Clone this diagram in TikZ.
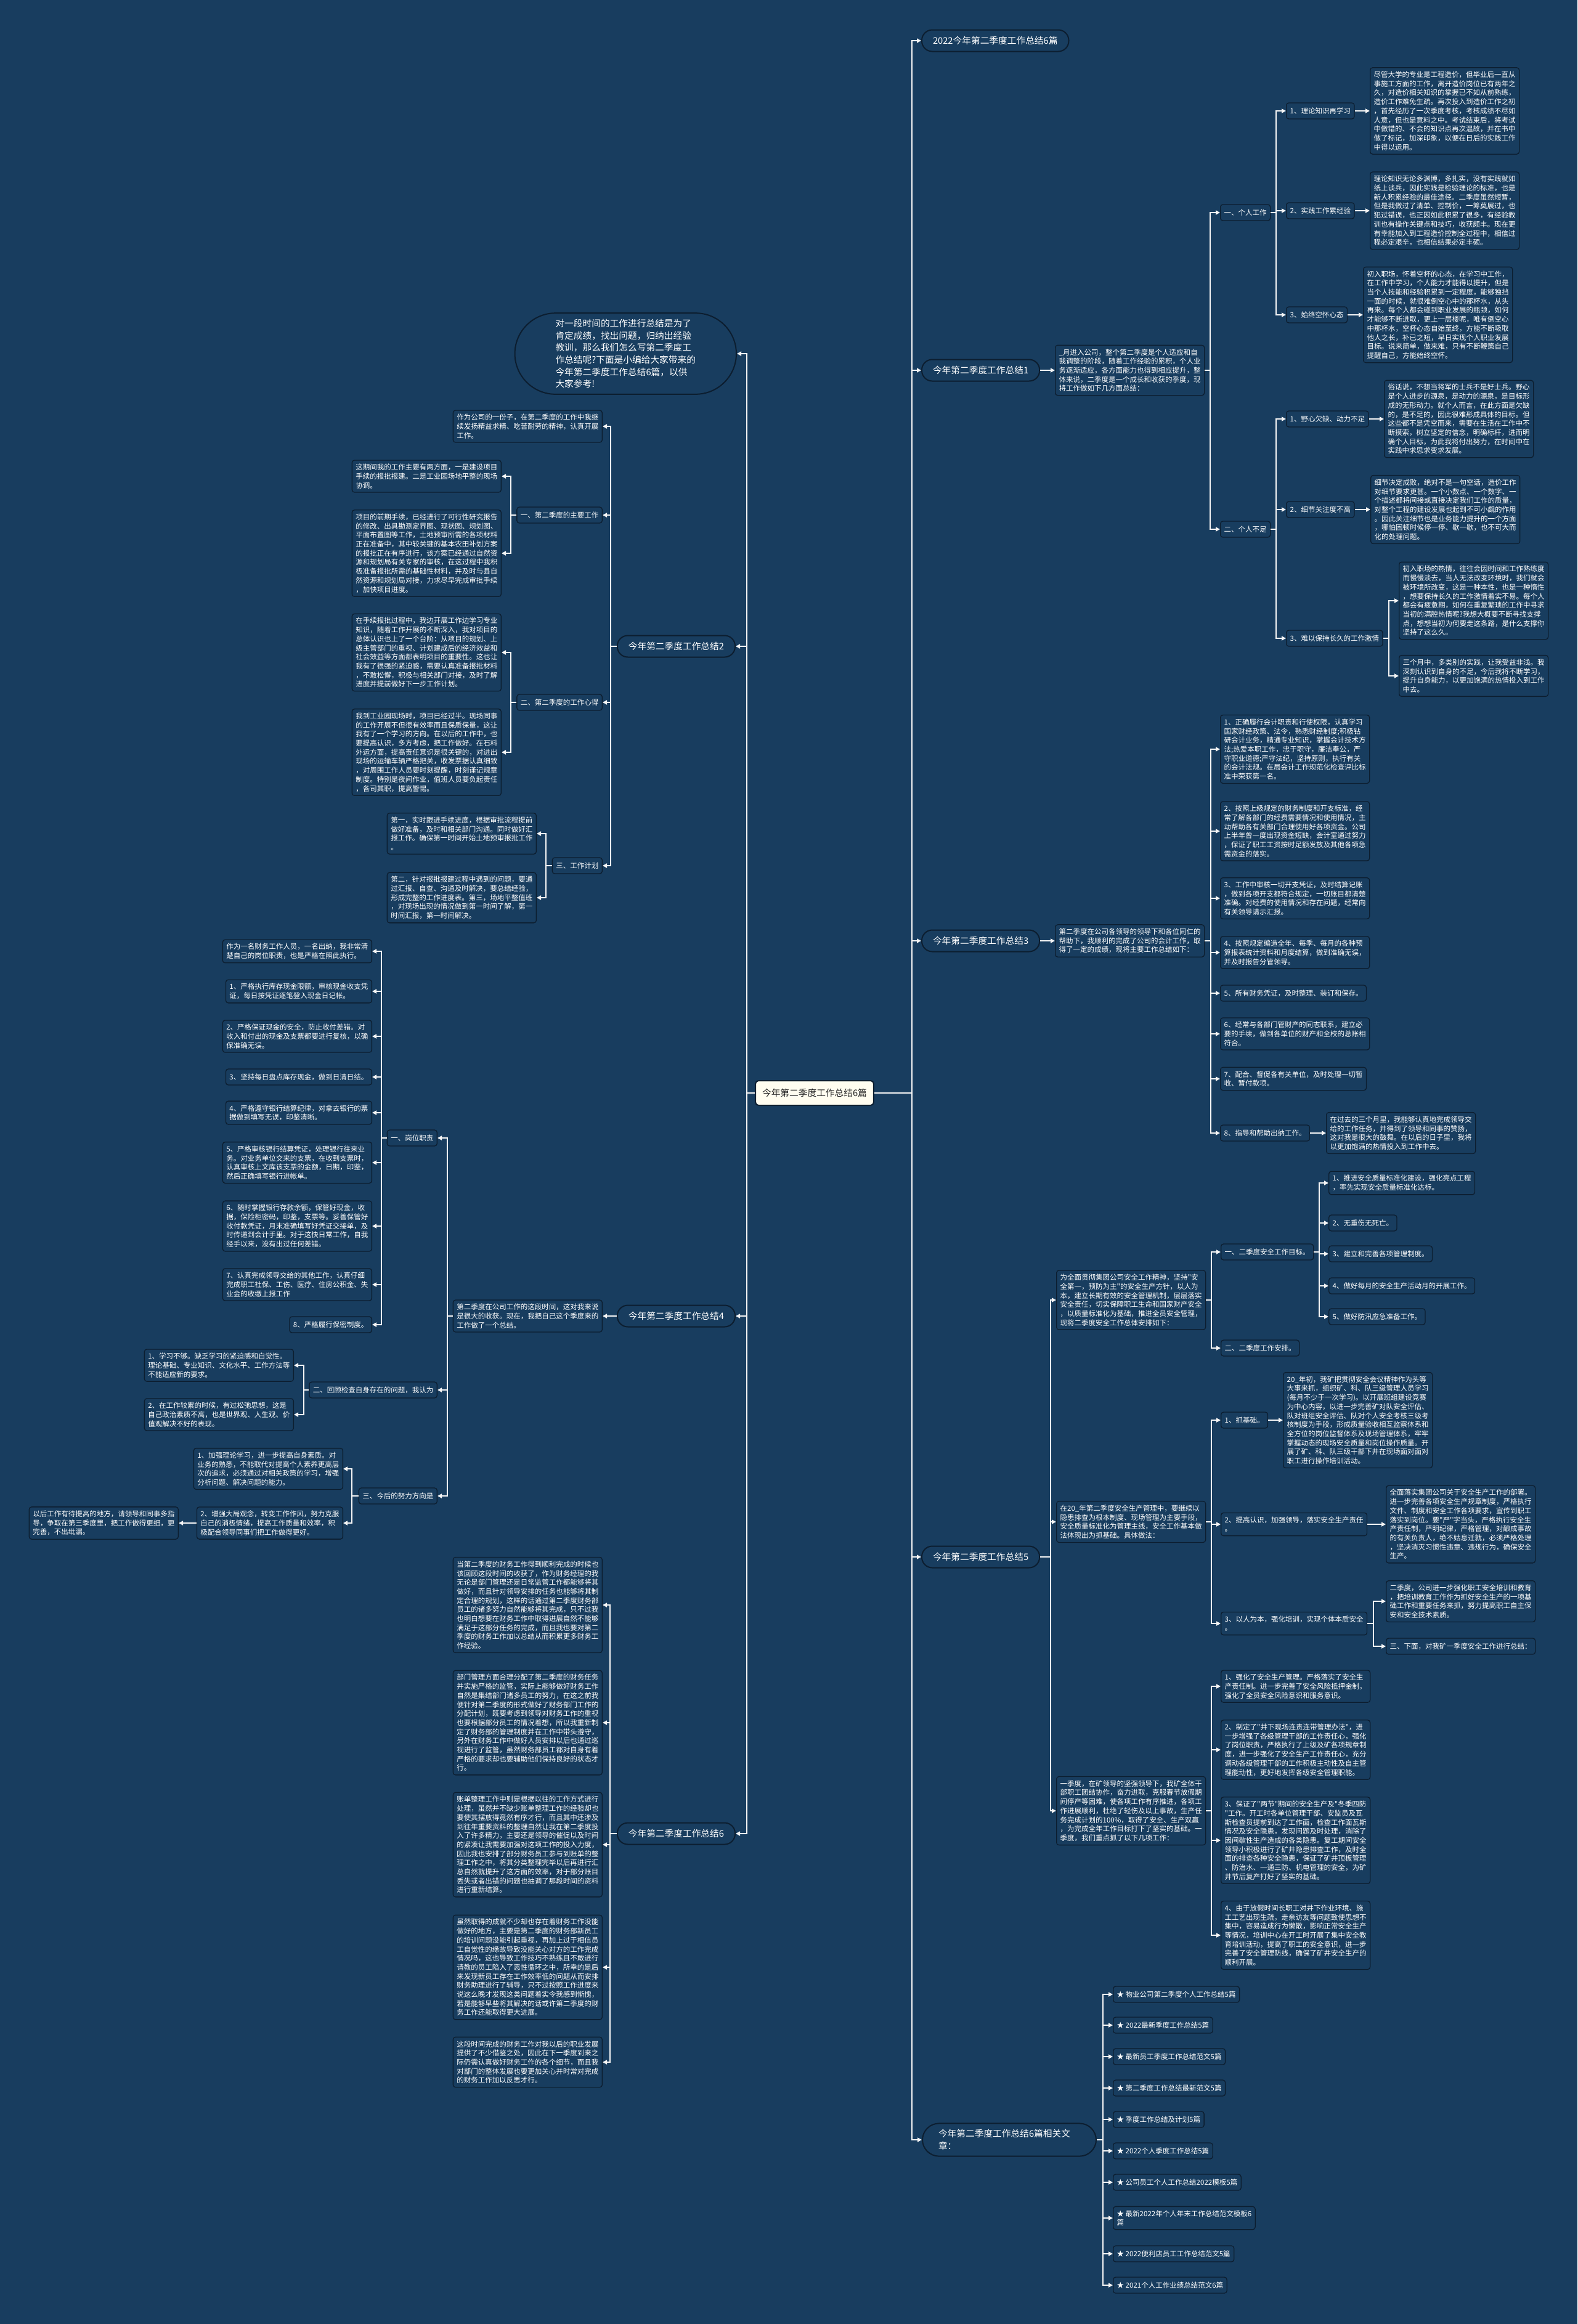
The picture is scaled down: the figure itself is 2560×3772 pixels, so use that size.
\documentclass[tikz,border=0pt]{standalone}
\usepackage{fontspec}
\newfontfamily\cjk{Noto Sans CJK SC}
\usetikzlibrary{arrows.meta}
\definecolor{bg}{RGB}{24,61,95}
\definecolor{bdr}{RGB}{12,30,48}
\definecolor{lin}{RGB}{245,245,245}
\definecolor{ctr}{RGB}{255,253,240}
\newcommand\myfs{\fontsize{11.5}{14.7}\selectfont}
\newcommand\myfm{\fontsize{14.7}{19.6}\selectfont}
\newcommand\myrc[3]{\draw[conn] (#1.east) -- ++(#3,0) |- (#2.west);}
\newcommand\mylc[3]{\draw[conn] (#1.west) -- ++(-#3,0) |- (#2.east);}
\begin{document}
\begin{tikzpicture}[x=1pt,y=-1pt,
  leaf/.style={draw=bdr,line width=1.3pt,rounded corners=4pt,fill=bg,text=white,font=\cjk\myfs,align=left,inner xsep=6pt,inner ysep=6pt,minimum height=26pt},
  pill/.style={draw=bdr,line width=2pt,rounded corners=17pt,fill=bg,text=white,font=\cjk\myfm,inner xsep=18pt,minimum height=35pt},
  conn/.style={draw=lin,line width=2.2pt,-{Triangle[length=7pt,width=7pt]}},
  ctrnode/.style={draw=bdr,line width=2pt,rounded corners=5pt,fill=ctr,text=black!85,font=\cjk\myfm,inner xsep=11pt,minimum height=40pt}]
\fill[bg] (0,0) rectangle (2560,3772);
\useasboundingbox (0,0) rectangle (2560,3772);

% centre
\node[ctrnode] (c) at (1322,1774) {今年第二季度工作总结6篇};
\coordinate (rt) at (1480,1774);
\coordinate (lt) at (1212,1774);

% ---------------- right side main
\node[pill,anchor=west] (p0) at (1495,66) {2022今年第二季度工作总结6篇};
\node[pill,anchor=west] (p1) at (1495,601) {今年第二季度工作总结1};
\node[pill,anchor=west] (p3) at (1495,1527) {今年第二季度工作总结3};
\node[pill,anchor=west] (p5) at (1495,2527) {今年第二季度工作总结5};
\node[pill,anchor=west,align=left,text width=230pt,inner xsep=26pt,inner ysep=10pt,rounded corners=27pt] (pr) at (1496,3473) {今年第二季度工作总结6篇相关文\\章：};

% ---------------- 总结1
\node[leaf,anchor=west] (d1) at (1712,601) {\_月进入公司，整个第二季度是个人适应和自\\我调整的阶段，随着工作经验的累积，个人业\\务逐渐适应，各方面能力也得到相应提升，整\\体来说，二季度是一个成长和收获的季度，现\\将工作做如下几方面总结：};
\node[leaf,anchor=west] (g1) at (1980,345) {一、个人工作};
\node[leaf,anchor=west] (g2) at (1980,859) {二、个人不足};
\node[leaf,anchor=west] (g1a) at (2087,180) {1、理论知识再学习};
\node[leaf,anchor=west] (l1a) at (2223,180) {尽管大学的专业是工程造价，但毕业后一直从\\事施工方面的工作，离开造价岗位已有两年之\\久，对造价相关知识的掌握已不如从前熟练，\\造价工作难免生疏。再次投入到造价工作之初\\，首先经历了一次季度考核，考核成绩不尽如\\人意，但也是意料之中。考试结束后，将考试\\中做错的、不会的知识点再次温故，并在书中\\做了标记，加深印象，以便在日后的实践工作\\中得以运用。};
\node[leaf,anchor=west] (g1b) at (2087,342) {2、实践工作累经验};
\node[leaf,anchor=west] (l1b) at (2223,342) {理论知识无论多渊博，多扎实，没有实践就如\\纸上谈兵，因此实践是检验理论的标准，也是\\新人积累经验的最佳途径。二季度虽然短暂，\\但是我做过了清单、控制价，一筹莫展过，也\\犯过错误，也正因如此积累了很多，有经验教\\训也有操作关键点和技巧，收获颇丰。现在更\\有幸能加入到工程造价控制全过程中，相信过\\程必定艰辛，也相信结果必定丰硕。};
\node[leaf,anchor=west] (g1c) at (2087,511) {3、始终空怀心态};
\node[leaf,anchor=west] (l1c) at (2212,511) {初入职场，怀着空杯的心态，在学习中工作，\\在工作中学习，个人能力才能得以提升，但是\\当个人技能和经验积累到一定程度，能够独挡\\一面的时候，就很难倒空心中的那杯水，从头\\再来。每个人都会碰到职业发展的瓶颈，如何\\才能够不断进取，更上一层楼呢，唯有倒空心\\中那杯水，空杯心态自始至终，方能不断吸取\\他人之长，补已之短，早日实现个人职业发展\\目标。说来简单，做来难，只有不断鞭策自己\\提醒自己，方能始终空怀。};
\node[leaf,anchor=west] (g2a) at (2087,680) {1、野心欠缺、动力不足};
\node[leaf,anchor=west] (l2a) at (2246,680) {俗话说，不想当将军的士兵不是好士兵。野心\\是个人进步的源泉，是动力的源泉，是目标形\\成的无形动力。就个人而言，在此方面是欠缺\\的，是不足的，因此很难形成具体的目标。但\\这些都不是凭空而来，需要在生活在工作中不\\断摸索，树立坚定的信念，明确标杆，进而明\\确个人目标，为此我将付出努力，在时间中在\\实践中求思求变求发展。};
\node[leaf,anchor=west] (g2b) at (2087,827) {2、细节关注度不高};
\node[leaf,anchor=west] (l2b) at (2224,827) {细节决定成败，绝对不是一句空话，造价工作\\对细节要求更甚。一个小数点、一个数字、一\\个描述都将间接或直接决定我们工作的质量，\\对整个工程的建设发展也起到不可小觑的作用\\。因此关注细节也是业务能力提升的一个方面\\，哪怕困顿时候停一停、歇一歇，也不可大而\\化的处理问题。};
\node[leaf,anchor=west] (g2c) at (2087,1036) {3、难以保持长久的工作激情};
\node[leaf,anchor=west] (l2c1) at (2270,975) {初入职场的热情，往往会因时间和工作熟练度\\而慢慢淡去，当人无法改变环境时，我们就会\\被环境所改变，这是一种本性，也是一种惰性\\，想要保持长久的工作激情着实不易。每个人\\都会有疲惫期，如何在重复繁琐的工作中寻求\\当初的满腔热情呢?我想大概要不断寻找支撑\\点，想想当初为何要走这条路，是什么支撑你\\坚持了这么久。};
\node[leaf,anchor=west] (l2c2) at (2270,1097) {三个月中，多类别的实践，让我受益非浅。我\\深刻认识到自身的不足，今后我将不断学习，\\提升自身能力，以更加饱满的热情投入到工作\\中去。};

% ---------------- 总结3
\node[leaf,anchor=west] (d3) at (1712,1527) {第二季度在公司各领导的领导下和各位同仁的\\帮助下，我顺利的完成了公司的会计工作，取\\得了一定的成绩，现将主要工作总结如下：};
\node[leaf,anchor=west] (m1) at (1980,1216) {1、正确履行会计职责和行使权限，认真学习\\国家财经政策、法令，熟悉财经制度;积极钻\\研会计业务，精通专业知识，掌握会计技术方\\法;热爱本职工作，忠于职守，廉洁奉公，严\\守职业道德;严守法纪，坚持原则，执行有关\\的会计法规。在局会计工作规范化检查评比标\\准中荣获第一名。};
\node[leaf,anchor=west] (m2) at (1980,1349) {2、按照上级规定的财务制度和开支标准，经\\常了解各部门的经费需要情况和使用情况，主\\动帮助各有关部门合理使用好各项资金。公司\\上半年曾一度出现资金短缺，会计室通过努力\\，保证了职工工资按时足额发放及其他各项急\\需资金的落实。};
\node[leaf,anchor=west] (m3) at (1980,1458) {3、工作中审核一切开支凭证，及时结算记账\\，做到各项开支都符合规定，一切账目都清楚\\准确。对经费的使用情况和存在问题，经常向\\有关领导请示汇报。};
\node[leaf,anchor=west] (m4) at (1980,1546) {4、按照规定编造全年、每季、每月的各种预\\算报表统计资料和月度结算，做到准确无误，\\并及时报告分管领导。};
\node[leaf,anchor=west] (m5) at (1980,1612) {5、所有财务凭证，及时整理、装订和保存。};
\node[leaf,anchor=west] (m6) at (1980,1678) {6、经常与各部门管财产的同志联系，建立必\\要的手续，做到各单位的财产和全校的总账相\\符合。};
\node[leaf,anchor=west] (m7) at (1980,1751) {7、配合、督促各有关单位，及时处理一切暂\\收、暂付款项。};
\node[leaf,anchor=west] (m8) at (1980,1839) {8、指导和帮助出纳工作。};
\node[leaf,anchor=west] (m8c) at (2152,1839) {在过去的三个月里，我能够认真地完成领导交\\给的工作任务，并得到了领导和同事的赞扬，\\这对我是很大的鼓舞。在以后的日子里，我将\\以更加饱满的热情投入到工作中去。};

% ---------------- 总结5
\node[leaf,anchor=west] (e1) at (1714,2110) {为全面贯彻集团公司安全工作精神，坚持"安\\全第一，预防为主"的安全生产方针，以人为\\本，建立长期有效的安全管理机制，层层落实\\安全责任，切实保障职工生命和国家财产安全\\，以质量标准化为基础，推进全员安全管理，\\现将二季度安全工作总体安排如下：};
\node[leaf,anchor=west] (s1) at (1981,2032) {一、二季度安全工作目标。};
\node[leaf,anchor=west] (s2) at (1981,2188) {二、二季度工作安排。};
\node[leaf,anchor=west] (s1a) at (2156,1920) {1、推进安全质量标准化建设，强化亮点工程\\，率先实现安全质量标准化达标。};
\node[leaf,anchor=west] (s1b) at (2156,1985) {2、无重伤无死亡。};
\node[leaf,anchor=west] (s1c) at (2156,2035) {3、建立和完善各项管理制度。};
\node[leaf,anchor=west] (s1d) at (2156,2087) {4、做好每月的安全生产活动月的开展工作。};
\node[leaf,anchor=west] (s1e) at (2156,2137) {5、做好防汛应急准备工作。};

\node[leaf,anchor=west] (e2) at (1714,2470) {在20\_年第二季度安全生产管理中，要继续以\\隐患排查为根本制度、现场管理为主要手段，\\安全质量标准化为管理主线，安全工作基本做\\法体现出为抓基础。具体做法：};
\node[leaf,anchor=west] (t1) at (1981,2305) {1、抓基础。};
\node[leaf,anchor=west] (t1l) at (2082,2305) {20\_年初，我矿把贯彻安全会议精神作为头等\\大事来抓，组织矿、科、队三级管理人员学习\\(每月不少于一次学习)。以开展班组建设竞赛\\为中心内容，以进一步完善矿对队安全评估、\\队对班组安全评估、队对个人安全考核三级考\\核制度为手段，形成质量验收相互监察体系和\\全方位的岗位监督体系及现场管理体系，牢牢\\掌握动态的现场安全质量和岗位操作质量。开\\展了矿、科、队三级干部下井在现场面对面对\\职工进行操作培训活动。};
\node[leaf,anchor=west] (t2) at (1981,2474) {2、提高认识，加强领导，落实安全生产责任\\。};
\node[leaf,anchor=west] (t2l) at (2249,2474) {全面落实集团公司关于安全生产工作的部署。\\进一步完善各项安全生产规章制度，严格执行\\文件、制度和安全工作各项要求，宣传到职工\\落实到岗位。要"严"字当头，严格执行安全生\\产责任制，严明纪律，严格管理，对酿成事故\\的有关负责人，绝不姑息迁就，必须严格处理\\，坚决消灭习惯性违章、违规行为，确保安全\\生产。};
\node[leaf,anchor=west] (t3) at (1981,2635) {3、以人为本，强化培训，实现个体本质安全\\。};
\node[leaf,anchor=west] (t3a) at (2249,2599) {二季度，公司进一步强化职工安全培训和教育\\，把培训教育工作作为抓好安全生产的一项基\\础工作和重要任务来抓，努力提高职工自主保\\安和安全技术素质。};
\node[leaf,anchor=west] (t3b) at (2249,2672) {三、下面，对我矿一季度安全工作进行总结：};

\node[leaf,anchor=west] (e3) at (1714,2939) {一季度，在矿领导的坚强领导下，我矿全体干\\部职工团结协作，奋力进取，克服春节放假期\\间停产等困难，使各项工作有序推进，各项工\\作进展顺利，杜绝了轻伤及以上事故，生产任\\务完成计划的100\%，取得了安全、生产双赢\\，为完成全年工作目标打下了坚实的基础。一\\季度，我们重点抓了以下几项工作：};
\node[leaf,anchor=west] (u1) at (1981,2737) {1、强化了安全生产管理。严格落实了安全生\\产责任制。进一步完善了安全风险抵押金制，\\强化了全员安全风险意识和服务意识。};
\node[leaf,anchor=west] (u2) at (1981,2840) {2、制定了"井下现场连责连带管理办法"，进\\一步增强了各级管理干部的工作责任心，强化\\了岗位职责，严格执行了上级及矿各项规章制\\度，进一步强化了安全生产工作责任心，充分\\调动各级管理干部的工作积极主动性及自主管\\理能动性，更好地发挥各级安全管理职能。};
\node[leaf,anchor=west] (u3) at (1981,2987) {3、保证了"两节"期间的安全生产及"冬季四防\\"工作。开工时各单位管理干部、安监员及瓦\\斯检查员提前到达了工作面，检查工作面瓦斯\\情况及安全隐患，发现问题及时处理，消除了\\因间歇性生产造成的各类隐患。复工期间安全\\领导小积极进行了矿井隐患排查工作，及时全\\面的排查各种安全隐患，保证了矿井顶板管理\\、防治水、一通三防、机电管理的安全，为矿\\井节后复产打好了坚实的基础。};
\node[leaf,anchor=west] (u4) at (1981,3141) {4、由于放假时间长职工对井下作业环境、施\\工工艺出现生疏，走亲访友等问题致使思想不\\集中，容易造成行为懒散，影响正常安全生产\\等情况，培训中心在开工时开展了集中安全教\\育培训活动，提高了职工的安全意识，进一步\\完善了安全管理防线，确保了矿井安全生产的\\顺利开展。};

% ---------------- related
\node[leaf,anchor=west] (r1) at (1806,3237) {★ 物业公司第二季度个人工作总结5篇};
\node[leaf,anchor=west] (r2) at (1806,3287) {★ 2022最新季度工作总结5篇};
\node[leaf,anchor=west] (r3) at (1806,3338) {★ 最新员工季度工作总结范文5篇};
\node[leaf,anchor=west] (r4) at (1806,3389) {★ 第二季度工作总结最新范文5篇};
\node[leaf,anchor=west] (r5) at (1806,3440) {★ 季度工作总结及计划5篇};
\node[leaf,anchor=west] (r6) at (1806,3491) {★ 2022个人季度工作总结5篇};
\node[leaf,anchor=west] (r7) at (1806,3542) {★ 公司员工个人工作总结2022模板5篇};
\node[leaf,anchor=west] (r8) at (1806,3600) {★ 最新2022年个人年末工作总结范文模板6\\篇};
\node[leaf,anchor=west] (r9) at (1806,3658) {★ 2022便利店员工工作总结范文5篇};
\node[leaf,anchor=west] (r10) at (1806,3709) {★ 2021个人工作业绩总结范文6篇};

% ---------------- left side main
\node[pill,anchor=east,align=left,rounded corners=66pt,inner xsep=66pt,inner ysep=10pt] (intro) at (1196,574) {对一段时间的工作进行总结是为了\\肯定成绩，找出问题，归纳出经验\\教训，那么我们怎么写第二季度工\\作总结呢?下面是小编给大家带来的\\今年第二季度工作总结6篇，以供\\大家参考!};
\node[pill,anchor=east] (p2) at (1194,1049) {今年第二季度工作总结2};
\node[pill,anchor=east] (p4) at (1194,2136) {今年第二季度工作总结4};
\node[pill,anchor=east] (p6) at (1194,2976) {今年第二季度工作总结6};

% ---------------- 总结2
\node[leaf,anchor=east] (a0) at (978,692) {作为公司的一份子，在第二季度的工作中我继\\续发扬精益求精、吃苦耐劳的精神，认真开展\\工作。};
\node[leaf,anchor=east] (h1) at (978,836) {一、第二季度的主要工作};
\node[leaf,anchor=east] (h2) at (978,1140) {二、第二季度的工作心得};
\node[leaf,anchor=east] (h3) at (978,1405) {三、工作计划};
\node[leaf,anchor=east] (h1a) at (814,773) {这期间我的工作主要有两方面，一是建设项目\\手续的报批报建。二是工业园场地平整的现场\\协调。};
\node[leaf,anchor=east] (h1b) at (814,898) {项目的前期手续，已经进行了可行性研究报告\\的修改、出具勘测定界图、现状图、规划图、\\平面布置图等工作，土地预审所需的各项材料\\正在准备中，其中较关键的基本农田补划方案\\的报批正在有序进行，该方案已经通过自然资\\源和规划局有关专家的审核，在这过程中我积\\极准备报批所需的基础性材料，并及时与县自\\然资源和规划局对接，力求尽早完成审批手续\\，加快项目进度。};
\node[leaf,anchor=east] (h2a) at (814,1059) {在手续报批过程中，我边开展工作边学习专业\\知识，随着工作开展的不断深入，我对项目的\\总体认识也上了一个台阶：从项目的规划、上\\级主管部门的重视、计划建成后的经济效益和\\社会效益等方面都表明项目的重要性。这也让\\我有了很强的紧迫感，需要认真准备报批材料\\，不敢松懈，积极与相关部门对接，及时了解\\进度并提前做好下一步工作计划。};
\node[leaf,anchor=east] (h2b) at (814,1221) {我到工业园现场时，项目已经过半。现场同事\\的工作开展不但很有效率而且保质保量，这让\\我有了一个学习的方向。在以后的工作中，也\\要提高认识，多方考虑，把工作做好。在石料\\外运方面，提高责任意识是很关键的，对进出\\现场的运输车辆严格把关，收发票据认真细致\\，对周围工作人员要时刻提醒，时刻谨记规章\\制度。特别是夜间作业，值班人员要负起责任\\，各司其职，提高警惕。};
\node[leaf,anchor=east] (h3a) at (871,1353) {第一，实时跟进手续进度，根据审批流程提前\\做好准备，及时和相关部门沟通。同时做好汇\\报工作。确保第一时间开始土地预审报批工作\\。};
\node[leaf,anchor=east] (h3b) at (871,1457) {第二，针对报批报建过程中遇到的问题，要通\\过汇报、自查、沟通及时解决，要总结经验，\\形成完整的工作进度表。第三，场地平整值班\\，对现场出现的情况做到第一时间了解，第一\\时间汇报，第一时间解决。};

% ---------------- 总结4
\node[leaf,anchor=east] (d4) at (978,2136) {第二季度在公司工作的这段时间，这对我来说\\是很大的收获。现在，我把自己这个季度来的\\工作做了一个总结。};
\node[leaf,anchor=east] (k1) at (710,1847) {一、岗位职责};
\node[leaf,anchor=east] (k2) at (710,2256) {二、回顾检查自身存在的问题，我认为};
\node[leaf,anchor=east] (k3) at (710,2428) {三、今后的努力方向是};
\node[leaf,anchor=east] (n0) at (604,1544) {作为一名财务工作人员，一名出纳，我非常清\\楚自己的岗位职责，也是严格在照此执行。};
\node[leaf,anchor=east] (n1) at (604,1609) {1、严格执行库存现金限额，审核现金收支凭\\证，每日按凭证逐笔登入现金日记帐。};
\node[leaf,anchor=east] (n2) at (604,1682) {2、严格保证现金的安全，防止收付差错。对\\收入和付出的现金及支票都要进行复核，以确\\保准确无误。};
\node[leaf,anchor=east] (n3) at (604,1748) {3、坚持每日盘点库存现金，做到日清日结。};
\node[leaf,anchor=east] (n4) at (604,1806) {4、严格遵守银行结算纪律，对拿去银行的票\\据做到填写无误，印鉴清晰。};
\node[leaf,anchor=east] (n5) at (604,1887) {5、严格审核银行结算凭证，处理银行往来业\\务。对业务单位交来的支票，在收到支票时，\\认真审核上文库该支票的金额，日期，印鉴，\\然后正确填写银行进帐单。};
\node[leaf,anchor=east] (n6) at (604,1990) {6、随时掌握银行存款余额，保管好现金，收\\据，保险柜密码，印鉴，支票等。妥善保管好\\收付款凭证，月末准确填写好凭证交接单，及\\时传递到会计手里。对于这快日常工作，自我\\经手以来，没有出过任何差错。};
\node[leaf,anchor=east] (n7) at (604,2085) {7、认真完成领导交给的其他工作，认真仔细\\完成职工社保、工伤、医疗、住房公积金、失\\业金的收缴上报工作};
\node[leaf,anchor=east] (n8) at (604,2150) {8、严格履行保密制度。};
\node[leaf,anchor=east] (q1) at (477,2216) {1、学习不够。缺乏学习的紧迫感和自觉性。\\理论基础、专业知识、文化水平、工作方法等\\不能适应新的要求。};
\node[leaf,anchor=east] (q2) at (477,2296) {2、在工作较累的时候，有过松弛思想，这是\\自己政治素质不高，也是世界观、人生观、价\\值观解决不好的表现。};
\node[leaf,anchor=east] (w1) at (557,2384) {1、加强理论学习，进一步提高自身素质。对\\业务的熟悉，不能取代对提高个人素养更高层\\次的追求，必须通过对相关政策的学习，增强\\分析问题、解决问题的能力。};
\node[leaf,anchor=east] (w2) at (557,2472) {2、增强大局观念，转变工作作风，努力克服\\自己的消极情绪，提高工作质量和效率，积\\极配合领导同事们把工作做得更好。};
\node[leaf,anchor=east] (w2c) at (290,2472) {以后工作有待提高的地方，请领导和同事多指\\导，争取在第三季度里，把工作做得更细，更\\完善，不出纰漏。};

% ---------------- 总结6
\node[leaf,anchor=east] (f1) at (978,2605) {当第二季度的财务工作得到顺利完成的时候也\\该回顾这段时间的收获了，作为财务经理的我\\无论是部门管理还是日常监管工作都能够将其\\做好，而且针对领导安排的任务也能够将其制\\定合理的规划，这样的话通过第二季度财务部\\员工的诸多努力自然能够将其完成，只不过我\\也明白想要在财务工作中取得进展自然不能够\\满足于这部分任务的完成，而且我也要对第二\\季度的财务工作加以总结从而积累更多财务工\\作经验。};
\node[leaf,anchor=east] (f2) at (978,2796) {部门管理方面合理分配了第二季度的财务任务\\并实施严格的监管，实际上能够做好财务工作\\自然是集结部门诸多员工的努力，在这之前我\\便针对第二季度的形式做好了财务部门工作的\\分配计划，既要考虑到领导对财务工作的重视\\也要根据部分员工的情况着想，所以我重新制\\定了财务部的管理制度并在工作中带头遵守，\\另外在财务工作中做好人员安排以后也通过巡\\视进行了监管，虽然财务部员工都对自身有着\\严格的要求却也要辅助他们保持良好的状态才\\行。};
\node[leaf,anchor=east] (f3) at (978,2994) {账单整理工作中则是根据以往的工作方式进行\\处理，虽然并不缺少账单整理工作的经验却也\\要使其摆放得竟然有序才行，而且其中还涉及\\到往年重要资料的整理自然让我在第二季度投\\入了许多精力，主要还是领导的催促以及时间\\的紧凑让我需要加强对这项工作的投入力度，\\因此我也安排了部分财务员工参与到账单的整\\理工作之中，将其分类整理完毕以后再进行汇\\总自然就提升了这方面的效率，对于部分账目\\丢失或者出错的问题也抽调了那段时间的资料\\进行重新结算。};
\node[leaf,anchor=east] (f4) at (978,3193) {虽然取得的成就不少却也存在着财务工作没能\\做好的地方，主要是第二季度的财务部新员工\\的培训问题没能引起重视，再加上过于相信员\\工自觉性的缘故导致没能关心对方的工作完成\\情况吗，这也导致工作技巧不熟练且不敢进行\\请教的员工陷入了恶性循环之中，所幸的是后\\来发现新员工存在工作效率低的问题从而安排\\财务助理进行了辅导，只不过按照工作进度来\\说这么晚才发现这类问题着实令我感到惭愧，\\若是能够早些将其解决的话或许第二季度的财\\务工作还能取得更大进展。};
\node[leaf,anchor=east] (f5) at (978,3347) {这段时间完成的财务工作对我以后的职业发展\\提供了不少借鉴之处，因此在下一季度到来之\\际仍需认真做好财务工作的各个细节，而且我\\对部门的整体发展也要更加关心并时常对完成\\的财务工作加以反思才行。};

% ---------------- connectors: centre
\foreach \t in {p0,p1,p3,p5,pr} {\draw[conn] (c.east) -- (rt) |- (\t.west);}
\foreach \t in {intro,p2,p4,p6} {\draw[conn] (c.west) -- (lt) |- (\t.east);}

% 总结1
\draw[conn] (p1.east) -- (d1.west);
\myrc{d1}{g1}{9} \myrc{d1}{g2}{9}
\myrc{g1}{g1a}{9} \myrc{g1}{g1b}{9} \myrc{g1}{g1c}{9}
\draw[conn] (g1a.east) -- (l1a.west);
\draw[conn] (g1b.east) -- (l1b.west);
\draw[conn] (g1c.east) -- (l1c.west);
\myrc{g2}{g2a}{9} \myrc{g2}{g2b}{9} \myrc{g2}{g2c}{9}
\draw[conn] (g2a.east) -- (l2a.west);
\draw[conn] (g2b.east) -- (l2b.west);
\myrc{g2c}{l2c1}{9} \myrc{g2c}{l2c2}{9}

% 总结3
\draw[conn] (p3.east) -- (d3.west);
\foreach \t in {m1,m2,m3,m4,m5,m6,m7,m8} {\myrc{d3}{\t}{10}}
\draw[conn] (m8.east) -- (m8c.west);

% 总结5
\myrc{p5}{e1}{17} \myrc{p5}{e2}{17} \myrc{p5}{e3}{17}
\myrc{e1}{s1}{9} \myrc{e1}{s2}{9}
\foreach \t in {s1a,s1b,s1c,s1d,s1e} {\myrc{s1}{\t}{9}}
\myrc{e2}{t1}{9} \myrc{e2}{t2}{9} \myrc{e2}{t3}{9}
\draw[conn] (t1.east) -- (t1l.west);
\draw[conn] (t2.east) -- (t2l.west);
\myrc{t3}{t3a}{10} \myrc{t3}{t3b}{10}
\foreach \t in {u1,u2,u3,u4} {\myrc{e3}{\t}{9}}

% related
\foreach \t in {r1,r2,r3,r4,r5,r6,r7,r8,r9,r10} {\myrc{pr}{\t}{10}}

% 总结2
\foreach \t in {a0,h1,h2,h3} {\mylc{p2}{\t}{10}}
\mylc{h1}{h1a}{9} \mylc{h1}{h1b}{9}
\mylc{h2}{h2a}{9} \mylc{h2}{h2b}{9}
\mylc{h3}{h3a}{10} \mylc{h3}{h3b}{10}

% 总结4
\draw[conn] (p4.west) -- (d4.east);
\mylc{d4}{k1}{9} \mylc{d4}{k2}{9} \mylc{d4}{k3}{9}
\foreach \t in {n0,n1,n2,n3,n4,n5,n6,n7,n8} {\mylc{k1}{\t}{9}}
\mylc{k2}{q1}{8} \mylc{k2}{q2}{8}
\mylc{k3}{w1}{11} \mylc{k3}{w2}{11}
\draw[conn] (w2.west) -- (w2c.east);

% 总结6
\foreach \t in {f1,f2,f3,f4,f5} {\mylc{p6}{\t}{11}}
\end{tikzpicture}
\end{document}
